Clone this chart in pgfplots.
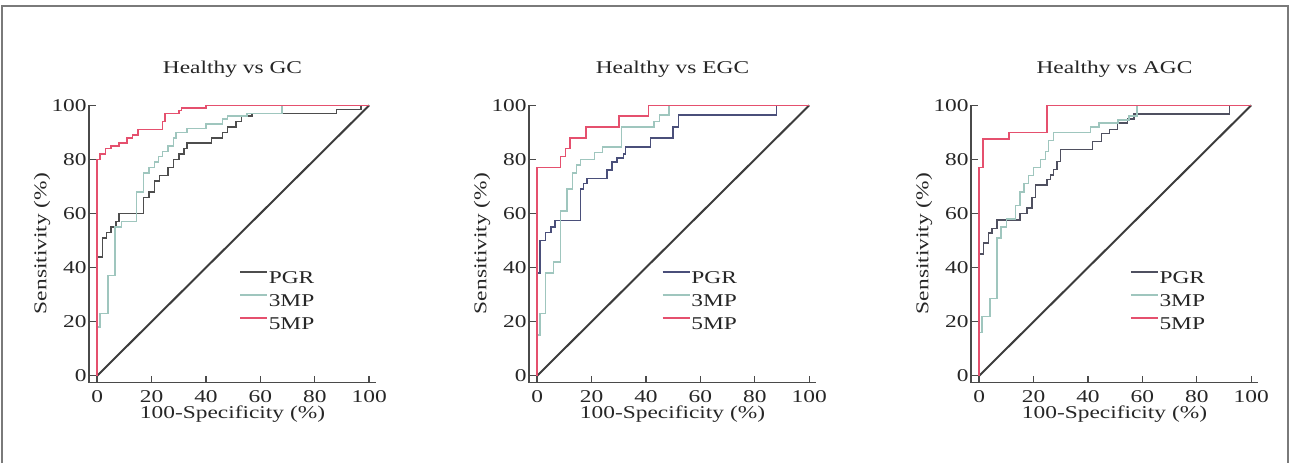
\documentclass[border=0pt]{standalone}
\usepackage{fontspec}
\setmainfont{Liberation Serif}[FakeStretch=1.3]
\usepackage{pgfplots}
\pgfplotsset{compat=1.18}
\definecolor{axgray}{HTML}{4A4A4A}
\definecolor{framegray}{HTML}{7A7A7A}
\definecolor{pgrgray}{HTML}{4D4D4D}
\definecolor{pgrblue}{HTML}{4A4F7A}
\definecolor{pgrslate}{HTML}{4F5060}
\definecolor{mpteal}{HTML}{9FC6BE}
\definecolor{mpred}{HTML}{E5506E}
\definecolor{diaggray}{HTML}{3C3C3C}
\pgfplotsset{
  roc/.style={
    scale only axis, width=143.5pt, height=139pt,
    xmin=-3, xmax=102.5, ymin=-2.5, ymax=100.3,
    axis lines=left, axis line style={-, draw=axgray, line width=0.8pt},
    xtick={0,20,...,100}, ytick={0,20,...,100},
    tick align=inside, major tick length=3.5pt, tick style={axgray, line width=0.7pt},
    font=\fontsize{9}{11}\selectfont, text=black!85,
    /pgf/number format/assume math mode=true,
    xticklabel style={anchor=base, yshift=-9.8pt, inner sep=0pt},
    yticklabel style={anchor=east, xshift=-1pt, inner sep=0pt},
    xlabel={100-Specificity (\%)}, ylabel={Sensitivity (\%)},
    xlabel style={at={(axis description cs:0.5,-0.1295)}, anchor=base},
    ylabel style={at={(axis description cs:-0.1638,0.5)}, anchor=center},
    title style={at={(axis description cs:0.5,1.068)}, anchor=base, yshift=0pt},
    legend cell align=left,
    legend style={draw=none, fill=none, inner sep=0pt, row sep=0pt,
      nodes={inner sep=0.5pt, text height=8pt, text depth=2.5pt}},
    legend image code/.code={\draw[#1] (0pt,3pt) -- (13.5pt,3pt);},
    every axis plot/.append style={line width=0.75pt, line join=miter},
  }
}
\begin{document}
\begin{tikzpicture}
\useasboundingbox (0,0) rectangle (646pt,231.5pt);
\draw[framegray, line width=0.75pt] (1pt,0) -- (1pt,228.5pt) -- (644pt,228.5pt) -- (644pt,0);

% Healthy vs GC
\begin{axis}[roc, at={(44.5pt,40.25pt)}, anchor=south west, title={Healthy vs GC},
  legend style={at={(axis cs:52.1,40.6)}, anchor=north west}]
\addplot[diaggray, line width=1pt, forget plot] coordinates {(0,0)(100,100)};
\addplot[pgrgray] coordinates {
  (0,0)(0,44)(2,44)(2,51)(3.5,51)(3.5,53)(5,53)(5,55)(7,55)(7,57)(8,57)(8,60)(17,60)
  (17,66)(19,66)(19,68)(21,68)(21,72)(23,72)(23,74)(26,74)(26,77)(28,77)(28,80)(30,80)
  (30,82)(32,82)(32,84)(33,84)(33,86)(42,86)(42,88)(46,88)(46,90)(48,90)(48,92)(51,92)
  (51,94)(53,94)(53,96)(57,96)(57,97)(88,97)(88,98.5)(97,98.5)(97,100)(100,100)};
\addlegendentry{PGR}
\addplot[mpteal] coordinates {
  (0,0)(0,18)(1,18)(1,23)(4,23)(4,37)(6.5,37)(6.5,55)(9,55)(9,57)(14.5,57)(14.5,68)
  (17,68)(17,75)(19,75)(19,77)(21,77)(21,79)(22.5,79)(22.5,81)(24,81)(24,83)(26,83)
  (26,85)(28,85)(28,88)(29,88)(29,90)(33,90)(33,91.5)(40,91.5)(40,93)(46,93)(46,95)
  (48,95)(48,96)(55,96)(55,97)(68,97)(68,100)(100,100)};
\addlegendentry{3MP}
\addplot[mpred] coordinates {
  (0,0)(0,80)(1,80)(1,82)(3,82)(3,84)(5,84)(5,85)(8,85)(8,86)(11,86)(11,88)(13,88)
  (13,89)(15,89)(15,91)(24,91)(24,94)(25,94)(25,97)(30,97)(30,98)(31,98)(31,99)(40,99)
  (40,100)(100,100)};
\addlegendentry{5MP}
\end{axis}

% Healthy vs EGC
\begin{axis}[roc, at={(264.5pt,40.25pt)}, anchor=south west, title={Healthy vs EGC},
  legend style={at={(axis cs:45.7,40.6)}, anchor=north west}]
\addplot[diaggray, line width=1pt, forget plot] coordinates {(0,0)(100,100)};
\addplot[pgrblue] coordinates {
  (0,0)(0,38)(1,38)(1,50)(3,50)(3,53)(5,53)(5,55)(6.5,55)(6.5,57.5)(16,57.5)(16,69)
  (17,69)(17,71)(18.3,71)(18.3,73)(25.7,73)(25.7,76)(27.6,76)(27.6,79)(29.4,79)
  (29.4,80.5)(31.8,80.5)(31.8,82)(32.5,82)(32.5,84.5)(41.7,84.5)(41.7,88)(50,88)(50,92)
  (52,92)(52,96.5)(88,96.5)(88,100)(100,100)};
\addlegendentry{PGR}
\addplot[mpteal] coordinates {
  (0,0)(0,15)(1,15)(1,23)(3,23)(3,38)(6,38)(6,42)(8.5,42)(8.5,61)(11,61)(11,69)(13,69)
  (13,75)(14.5,75)(14.5,78)(16,78)(16,80)(21,80)(21,82.5)(24,82.5)(24,84.5)(31,84.5)
  (31,92)(43,92)(43,94)(45,94)(45,96.5)(48.5,96.5)(48.5,100)(100,100)};
\addlegendentry{3MP}
\addplot[mpred] coordinates {
  (0,0)(0,77)(8.5,77)(8.5,81)(10.5,81)(10.5,84)(12,84)(12,88)(18,88)(18,92)(30,92)
  (30,96)(41,96)(41,100)(100,100)};
\addlegendentry{5MP}
\end{axis}

% Healthy vs AGC
\begin{axis}[roc, at={(485.5pt,40.25pt)}, anchor=south west, title={Healthy vs AGC},
  legend style={at={(axis cs:55.3,40.6)}, anchor=north west}]
\addplot[diaggray, line width=1pt, forget plot] coordinates {(0,0)(100,100)};
\addplot[pgrslate] coordinates {
  (0,0)(0,45)(1.6,45)(1.6,49)(3.4,49)(3.4,52.7)(4.7,52.7)(4.7,54.5)(6.5,54.5)(6.5,57.6)
  (15.1,57.6)(15.1,60)(17.6,60)(17.6,62)(19.4,62)(19.4,66)(20.7,66)(20.7,70.6)(25,70.6)
  (25,72.5)(26.2,72.5)(26.2,74.3)(27.4,74.3)(27.4,76.2)(28.7,76.2)(28.7,79.3)(29.9,79.3)
  (29.9,83.6)(41.6,83.6)(41.6,86.7)(45,86.7)(45,89.5)(48,89.5)(48,91)(50.8,91)
  (50.8,93.5)(54.5,93.5)(54.5,95)(57,95)(57,96.7)(92,96.7)(92,100)(100,100)};
\addlegendentry{PGR}
\addplot[mpteal] coordinates {
  (0,0)(0,16)(1,16)(1,22)(4,22)(4,28.5)(6.5,28.5)(6.5,51)(8,51)(8,55)(10,55)(10,58)
  (13.3,58)(13.3,63)(15.1,63)(15.1,68)(16.4,68)(16.4,71)(18.2,71)(18.2,74)(20,74)(20,77)
  (22.5,77)(22.5,80)(24.4,80)(24.4,83)(25.5,83)(25.5,87)(27.4,87)(27.4,90)(41,90)(41,92)
  (44,92)(44,93.5)(51,93.5)(51,94.5)(55,94.5)(55,96)(58,96)(58,100)(100,100)};
\addlegendentry{3MP}
\addplot[mpred] coordinates {
  (0,0)(0,77)(1.5,77)(1.5,87.5)(11,87.5)(11,90)(25,90)(25,100)(100,100)};
\addlegendentry{5MP}
\end{axis}
\end{tikzpicture}
\end{document}
